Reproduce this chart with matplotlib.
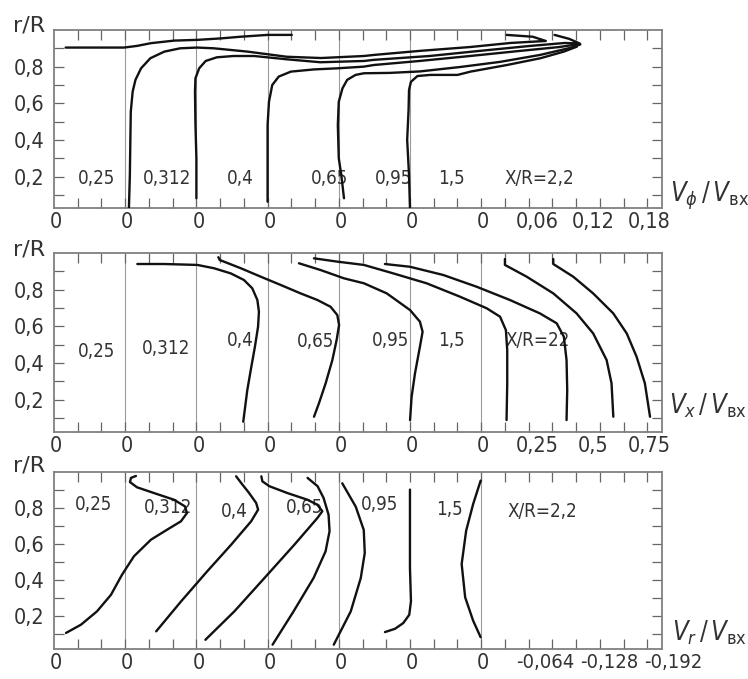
#!/usr/bin/env python3
"""Velocity profiles V_phi, V_x, V_r vs r/R at several X/R stations."""

import matplotlib
matplotlib.use("Agg")
import matplotlib.pyplot as plt
import matplotlib.font_manager as fm
import numpy as np

# stations X/R and their labels
stations = [0.25, 0.312, 0.4, 0.65, 0.95, 1.5, 2.2]
labels_phi = ["0,25", "0,312", "0,4", "0,65", "0,95", "1,5", "X/R=2,2"]
labels_x = ["0,25", "0,312", "0,4", "0,65", "0,95", "1,5", "X/R=22"]
labels_r = ["0,25", "0,312", "0,4", "0,65", "0,95", "1,5", "X/R=2,2"]

# V_phi / V_bx profiles (value, r/R)
vphi_v = {
    0.25: [0.0125, 0.075, 0.089, 0.104, 0.129, 0.154, 0.179, 0.200, 0.229, 0.255],
    0.312: [0.004, 0.005, 0.0055, 0.006, 0.008, 0.011, 0.017, 0.027, 0.042, 0.059, 0.077, 0.095,
            0.131, 0.173, 0.210, 0.256, 0.267, 0.316, 0.370, 0.413, 0.451, 0.437, 0.409],
    0.4: [0.000, 0.000, -0.001, -0.0015, -0.001, 0.003, 0.010, 0.022, 0.040, 0.062, 0.097,
          0.133, 0.180, 0.190, 0.250, 0.304, 0.358, 0.395, 0.411, 0.400, 0.384],
    0.65: [0.000, 0.000, 0.000, 0.0015, 0.005, 0.012, 0.025, 0.050, 0.075, 0.103, 0.114,
           0.163, 0.217, 0.271, 0.313, 0.335],
    0.95: [0.0056, 0.0027, 0.000, -0.001, 0.000, 0.004, 0.009, 0.018, 0.027, 0.055, 0.087,
           0.130, 0.173, 0.216, 0.248, 0.259],
    1.5: [0.000, -0.001, -0.003, -0.0015, -0.001, 0.001, 0.008, 0.022, 0.051, 0.065, 0.104,
          0.140, 0.165, 0.179],
}
vphi_r = {
    0.25: [0.904, 0.904, 0.913, 0.928, 0.942, 0.946, 0.954, 0.963, 0.973, 0.973],
    0.312: [0.03, 0.210, 0.391, 0.555, 0.664, 0.728, 0.791, 0.846, 0.882, 0.900, 0.904, 0.900,
            0.882, 0.854, 0.847, 0.858, 0.864, 0.886, 0.907, 0.929, 0.940, 0.963, 0.973],
    0.4: [0.083, 0.301, 0.482, 0.664, 0.737, 0.791, 0.831, 0.851, 0.858, 0.858, 0.840,
          0.824, 0.831, 0.837, 0.858, 0.886, 0.913, 0.929, 0.926, 0.951, 0.973],
    0.65: [0.064, 0.301, 0.482, 0.609, 0.700, 0.746, 0.773, 0.785, 0.791, 0.800, 0.809,
           0.831, 0.858, 0.886, 0.907, 0.924],
    0.95: [0.083, 0.210, 0.301, 0.482, 0.609, 0.682, 0.728, 0.755, 0.764, 0.766, 0.774,
           0.798, 0.826, 0.864, 0.902, 0.921],
    1.5: [0.03, 0.210, 0.401, 0.564, 0.673, 0.717, 0.749, 0.755, 0.755, 0.773, 0.809,
          0.846, 0.882, 0.909],
}

# V_x / V_bx profiles
vx_v = {
    0.25: [0.372, 0.491, 0.640, 0.714, 0.789, 0.848, 0.885, 0.908, 0.915, 0.911, 0.897, 0.881, 0.863, 0.845],
    0.312: [0.416, 0.422, 0.516, 0.605, 0.694, 0.783, 0.858, 0.917, 0.947, 0.955, 0.944, 0.925, 0.895, 0.865, 0.843],
    0.4: [0.458, 0.555, 0.659, 0.748, 0.850, 0.954, 0.998, 1.010, 0.998, 0.976, 0.961, 0.954],
    0.65: [0.207, 0.311, 0.430, 0.561, 0.710, 0.859, 0.978, 1.038, 1.064, 1.070, 1.070, 1.067],
    0.95: [0.206, 0.318, 0.467, 0.616, 0.764, 0.898, 0.973, 1.005, 1.017, 1.020, 1.017],
    1.5: [0.424, 0.424, 0.521, 0.640, 0.744, 0.818, 0.878, 0.900, 0.908],
    2.2: [0.322, 0.322, 0.411, 0.500, 0.590, 0.650, 0.694, 0.731, 0.754],
}
vx_r = {
    0.25: [0.940, 0.940, 0.935, 0.917, 0.889, 0.853, 0.808, 0.744, 0.680, 0.598, 0.489, 0.380, 0.253, 0.081],
    0.312: [0.977, 0.962, 0.917, 0.871, 0.826, 0.780, 0.744, 0.707, 0.662, 0.608, 0.526, 0.417, 0.290, 0.181, 0.108],
    0.4: [0.944, 0.907, 0.862, 0.835, 0.780, 0.689, 0.626, 0.571, 0.489, 0.344, 0.217, 0.090],
    0.65: [0.971, 0.953, 0.935, 0.889, 0.835, 0.762, 0.699, 0.653, 0.580, 0.471, 0.290, 0.090],
    0.95: [0.940, 0.925, 0.880, 0.816, 0.744, 0.671, 0.617, 0.544, 0.417, 0.253, 0.090],
    1.5: [0.967, 0.935, 0.871, 0.780, 0.671, 0.562, 0.417, 0.290, 0.108],
    2.2: [0.967, 0.940, 0.871, 0.780, 0.671, 0.562, 0.435, 0.290, 0.108],
}

# V_r / V_bx profiles
vr_v = {
    0.25: [-0.012, -0.027, -0.043, -0.057, -0.068, -0.080, -0.097, -0.113, -0.127, -0.133, -0.131,
           -0.120, -0.100, -0.083, -0.076, -0.077, -0.082],
    0.312: [-0.031, -0.056, -0.082, -0.106, -0.126, -0.133, -0.131, -0.124, -0.116, -0.111],
    0.4: [-0.009, -0.038, -0.071, -0.098, -0.121, -0.126, -0.121, -0.111, -0.091, -0.073, -0.066, -0.065],
    0.65: [-0.005, -0.026, -0.046, -0.058, -0.062, -0.061, -0.056, -0.050, -0.040],
    0.95: [0.005, -0.012, -0.022, -0.026, -0.025, -0.017, -0.0035],
    1.5: [0.0, 0.0, -0.001, 0.0007, 0.0067, 0.015, 0.025],
    2.2: [0.0005, 0.008, 0.015, 0.0195, 0.016, 0.008, 0.0005],
}
vr_r = {
    0.25: [0.106, 0.152, 0.226, 0.318, 0.429, 0.532, 0.624, 0.679, 0.726, 0.772, 0.809,
           0.846, 0.883, 0.915, 0.944, 0.967, 0.978],
    0.312: [0.115, 0.282, 0.448, 0.596, 0.726, 0.791, 0.828, 0.883, 0.939, 0.976],
    0.4: [0.068, 0.226, 0.429, 0.596, 0.744, 0.782, 0.818, 0.846, 0.883, 0.921, 0.948, 0.976],
    0.65: [0.041, 0.226, 0.411, 0.559, 0.671, 0.763, 0.856, 0.921, 0.967],
    0.95: [0.041, 0.226, 0.411, 0.550, 0.678, 0.807, 0.937],
    1.5: [0.902, 0.467, 0.282, 0.207, 0.161, 0.129, 0.111],
    2.2: [0.952, 0.822, 0.674, 0.489, 0.304, 0.174, 0.082],
}

# scale values printed after the last station
vphi_ticks = [0.06, 0.12, 0.18]
vphi_ticklabels = ["0,06", "0,12", "0,18"]
vx_ticks = [0.25, 0.5, 0.75]
vx_ticklabels = ["0,25", "0,5", "0,75"]
vr_ticks = [-0.064, -0.128, -0.192]
vr_ticklabels = ["-0,064", "-0,128", "-0,192"]

r_ticks = [0.2, 0.4, 0.6, 0.8]
r_ticklabels = ["0,2", "0,4", "0,6", "0,8"]

# ---- fonts ----
names = {f.name for f in fm.fontManager.ttflist}
if "Liberation Sans Narrow" in names:
    plt.rcParams["font.family"] = ["Liberation Sans Narrow", "DejaVu Sans"]
else:
    plt.rcParams["font.family"] = ["DejaVu Sans"]
    plt.rcParams["font.stretch"] = "condensed"
plt.rcParams["mathtext.fontset"] = "dejavusans"

TXT = "#333333"
GRID = "#9a9a9a"
SPINE = "#808080"
XMAX = 8.54  # panel width in station spacings
NUMSIZE = 15.5


def draw_panel(ax, prof_v, prof_r, scale, ticks, ticklabels, st_labels, label_pos,
               ylim, zero_lines, axis_label, label_xy, scale_size=NUMSIZE):
    ax.set_xlim(0, XMAX)
    ax.set_ylim(*ylim)

    for k in zero_lines:
        ax.axvline(k, color=GRID, lw=0.8, zorder=1)

    for i, st in enumerate(stations):
        if st not in prof_v:
            continue
        x = i + np.asarray(prof_v[st]) * scale
        ax.plot(x, prof_r[st], color="#111111", lw=1.7, solid_joinstyle="round",
                solid_capstyle="round", zorder=3)

    for (lx, ly), txt in zip(label_pos, st_labels):
        ax.text(lx, ly, txt, ha="center", va="center", fontsize=13.5, color=TXT, zorder=2)

    # ticks
    ax.set_xticks([])
    ax.set_xticks(np.arange(1 / 3, XMAX, 1 / 3), minor=True)
    ax.set_yticks(r_ticks)
    ax.set_yticklabels(r_ticklabels)
    ax.set_yticks(np.arange(0.1, 0.95, 0.1), minor=True)
    ax.yaxis.remove_overlapping_locs = False
    ax.tick_params(axis="both", which="both", direction="in", top=True, right=True,
                   length=7, width=0.9, color="#666666")
    ax.tick_params(axis="y", which="major", length=0, labelsize=NUMSIZE,
                   labelcolor=TXT, pad=7)
    for s in ax.spines.values():
        s.set_color(SPINE)
        s.set_linewidth(1.3)

    # bottom scale: zeros at every station, then values for the last one
    tr = ax.get_xaxis_transform()
    for i in range(len(stations)):
        ax.text(i + 0.03, -0.025, "0", transform=tr, ha="center", va="top",
                fontsize=NUMSIZE, color=TXT, clip_on=False)
    for t, tl in zip(ticks, ticklabels):
        ax.text(len(stations) - 1 + t * scale, -0.025, tl, transform=tr, ha="center",
                va="top", fontsize=scale_size, color=TXT, clip_on=False)

    fig.text(label_xy[0], label_xy[1], axis_label, fontsize=18.5, color=TXT,
             ha="left", va="baseline")


fig = plt.figure(figsize=(7.48, 6.79), dpi=100)
ax1 = fig.add_axes([0.0722, 0.6937, 0.8128, 0.2622])
ax2 = fig.add_axes([0.0722, 0.3638, 0.8128, 0.2636])
ax3 = fig.add_axes([0.0722, 0.0442, 0.8128, 0.2607])

draw_panel(ax1, vphi_v, vphi_r, 13.10, vphi_ticks, vphi_ticklabels, labels_phi,
           [(0.604, 0.188), (1.587, 0.188), (2.612, 0.188), (3.876, 0.188),
            (4.775, 0.188), (5.590, 0.188), (6.812, 0.188)],
           (0.03, 1.0), [1, 2, 3, 4, 5],
           r"$V_{\phi}\,/\,V_{\mathrm{вх}}$", (0.896, 0.703))
draw_panel(ax2, vx_v, vx_r, 3.146, vx_ticks, vx_ticklabels, labels_x,
           [(0.60, 0.462), (1.58, 0.481), (2.61, 0.526), (3.675, 0.517),
            (4.73, 0.526), (5.585, 0.526), (6.79, 0.526)],
           (0.025, 1.0), [1, 2, 3, 4, 5, 6],
           r"$V_{x}\,/\,V_{\mathrm{вх}}$", (0.894, 0.391))
draw_panel(ax3, vr_v, vr_r, -14.04, vr_ticks, vr_ticklabels, labels_r,
           [(0.55, 0.818), (1.604, 0.80), (2.528, 0.782), (3.523, 0.80),
            (4.567, 0.818), (5.55, 0.791), (6.86, 0.782)],
           (0.017, 1.0), [1, 2, 3, 4, 6],
           r"$V_{r}\,/\,V_{\mathrm{вх}}$", (0.898, 0.057), scale_size=14.5)

for yy in (0.954, 0.623, 0.305):
    fig.text(0.0174, yy, "r/R", fontsize=16, fontstretch="normal", color=TXT,
             ha="left", va="baseline")

fig.savefig("out.png", dpi=100, facecolor="white")
